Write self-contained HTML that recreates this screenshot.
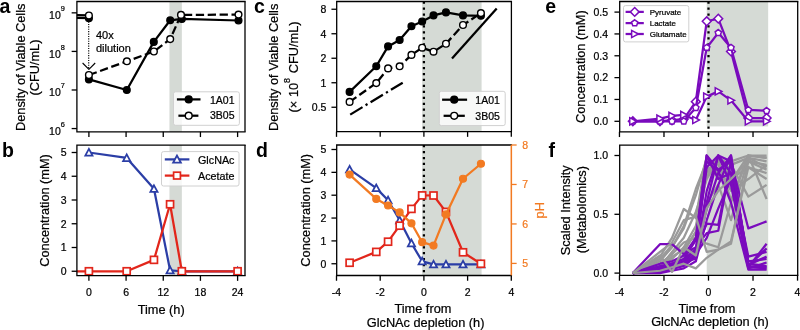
<!DOCTYPE html>
<html><head><meta charset="utf-8"><style>
html,body{margin:0;padding:0;background:#fff;}
body{width:800px;height:330px;overflow:hidden;}
svg{display:block;font-family:"Liberation Sans", sans-serif;will-change:transform;}
</style></head><body>
<svg width="800" height="330" viewBox="0 0 800 330">
<rect width="800" height="330" fill="#fff"/>
<rect x="169.45" y="1.5" width="12.39" height="130.3" fill="#d5dad5" />
<polyline points="76.9,17.9 88.9,18.1" fill="none" stroke="#000" stroke-width="2.25" stroke-linejoin="round" stroke-linecap="butt" />
<polyline points="76.9,15.2 88.9,15.4" fill="none" stroke="#000" stroke-width="2.25" stroke-linejoin="round" stroke-linecap="butt" />
<circle cx="88.9" cy="18.2" r="3.35" fill="#000" stroke="#000" stroke-width="1.4"/>
<circle cx="88.9" cy="15.5" r="3.35" fill="#fff" stroke="#000" stroke-width="1.4"/>
<line x1="88.7" y1="21.5" x2="88.7" y2="69" stroke="#000" stroke-width="1.15" stroke-dasharray="1.15 1.25"/>
<polyline points="82.6,63 88.9,69.4 95.2,63" fill="none" stroke="#000" stroke-width="1.1" stroke-linejoin="round" stroke-linecap="butt" />
<polyline points="88.9,79.4 126.8,90 153.8,41.9 170.2,20.3 181.8,18.9 238.5,20.5" fill="none" stroke="#000" stroke-width="2.25" stroke-linejoin="round" stroke-linecap="butt" />
<circle cx="88.9" cy="79.4" r="3.35" fill="#000" stroke="#000" stroke-width="1.4"/>
<circle cx="126.8" cy="90" r="3.35" fill="#000" stroke="#000" stroke-width="1.4"/>
<circle cx="153.8" cy="41.9" r="3.35" fill="#000" stroke="#000" stroke-width="1.4"/>
<circle cx="170.2" cy="20.3" r="3.35" fill="#000" stroke="#000" stroke-width="1.4"/>
<circle cx="181.8" cy="18.9" r="3.35" fill="#000" stroke="#000" stroke-width="1.4"/>
<circle cx="238.5" cy="20.5" r="3.35" fill="#000" stroke="#000" stroke-width="1.4"/>
<polyline points="88.9,75 126.9,61.3 153.9,51.5 170.2,39.1 181,14.9 238.5,14.6" fill="none" stroke="#000" stroke-width="2.25" stroke-linejoin="round" stroke-linecap="butt" stroke-dasharray="8.3 3.6"/>
<circle cx="88.9" cy="75" r="3.35" fill="#fff" stroke="#000" stroke-width="1.4"/>
<circle cx="126.9" cy="61.3" r="3.35" fill="#fff" stroke="#000" stroke-width="1.4"/>
<circle cx="153.9" cy="51.5" r="3.35" fill="#fff" stroke="#000" stroke-width="1.4"/>
<circle cx="170.2" cy="39.1" r="3.35" fill="#fff" stroke="#000" stroke-width="1.4"/>
<circle cx="181" cy="14.9" r="3.35" fill="#fff" stroke="#000" stroke-width="1.4"/>
<circle cx="238.5" cy="14.6" r="3.35" fill="#fff" stroke="#000" stroke-width="1.4"/>
<text x="96" y="39" font-size="11" text-anchor="start" fill="#000" font-weight="normal" stroke="#000" stroke-width="0.22" >40x</text>
<text x="96" y="51.9" font-size="11" text-anchor="start" fill="#000" font-weight="normal" stroke="#000" stroke-width="0.22" >dilution</text>
<rect x="173.5" y="91.8" width="65.9" height="33.5" rx="2" ry="2" fill="#fff" fill-opacity="0.8" stroke="#d0d0d0" stroke-width="1"/>
<polyline points="176.9,99.4 200.5,99.4" fill="none" stroke="#000" stroke-width="2.25" stroke-linejoin="round" stroke-linecap="butt" />
<circle cx="188.7" cy="99.4" r="3.4" fill="#000" stroke="#000" stroke-width="1.4"/>
<polyline points="178.4,115.7 186.7,115.7" fill="none" stroke="#000" stroke-width="2.25" stroke-linejoin="round" stroke-linecap="butt" />
<polyline points="190.3,115.7 198.4,115.7" fill="none" stroke="#000" stroke-width="2.25" stroke-linejoin="round" stroke-linecap="butt" />
<circle cx="188.7" cy="115.7" r="3.4" fill="#fff" stroke="#000" stroke-width="1.4"/>
<text x="210" y="103.6" font-size="10.5" text-anchor="start" fill="#000" font-weight="normal" stroke="#000" stroke-width="0.22" >1A01</text>
<text x="210" y="119.3" font-size="10.5" text-anchor="start" fill="#000" font-weight="normal" stroke="#000" stroke-width="0.22" >3B05</text>
<path d="M76.9,1.5 H245 M76.9,1.5 V131.8 H245" fill="none" stroke="#000" stroke-width="1.3" stroke-linecap="square"/>
<line x1="245" y1="1.5" x2="245" y2="131.8" stroke="#000" stroke-width="1.3" />
<line x1="71.65" y1="128.56" x2="76.9" y2="128.56" stroke="#000" stroke-width="1.3" />
<text x="49.1" y="134.76" font-size="10.5" stroke="#000" stroke-width="0.22">10<tspan font-size="7.35" dy="-8.1">6</tspan></text>
<line x1="71.65" y1="89.99" x2="76.9" y2="89.99" stroke="#000" stroke-width="1.3" />
<text x="49.1" y="96.19" font-size="10.5" stroke="#000" stroke-width="0.22">10<tspan font-size="7.35" dy="-8.1">7</tspan></text>
<line x1="71.65" y1="51.42" x2="76.9" y2="51.42" stroke="#000" stroke-width="1.3" />
<text x="49.1" y="57.62" font-size="10.5" stroke="#000" stroke-width="0.22">10<tspan font-size="7.35" dy="-8.1">8</tspan></text>
<line x1="71.65" y1="12.85" x2="76.9" y2="12.85" stroke="#000" stroke-width="1.3" />
<text x="49.1" y="19.05" font-size="10.5" stroke="#000" stroke-width="0.22">10<tspan font-size="7.35" dy="-8.1">9</tspan></text>
<line x1="88.9" y1="131.8" x2="88.9" y2="137.05" stroke="#000" stroke-width="1.3" />
<line x1="126.08" y1="131.8" x2="126.08" y2="137.05" stroke="#000" stroke-width="1.3" />
<line x1="163.25" y1="131.8" x2="163.25" y2="137.05" stroke="#000" stroke-width="1.3" />
<line x1="200.43" y1="131.8" x2="200.43" y2="137.05" stroke="#000" stroke-width="1.3" />
<line x1="237.6" y1="131.8" x2="237.6" y2="137.05" stroke="#000" stroke-width="1.3" />
<text x="-0.5" y="12.6" font-size="19.5" text-anchor="start" fill="#000" font-weight="bold" >a</text>
<text x="24.9" y="67.3" font-size="12.75" text-anchor="middle" fill="#000" font-weight="normal" stroke="#000" stroke-width="0.22" transform="rotate(-90 24.9 67.3)" >Density of Viable Cells</text>
<text x="39.4" y="67.6" font-size="12.75" text-anchor="middle" fill="#000" font-weight="normal" stroke="#000" stroke-width="0.22" transform="rotate(-90 39.4 67.6)" >(CFU/mL)</text>
<rect x="169.45" y="145.1" width="12.39" height="130.5" fill="#d5dad5" />
<polyline points="88.9,152.5 126.7,157.96 153.96,188.84 170.07,270.3 181.84,271.25 237.6,271.25" fill="none" stroke="#2b3ea6" stroke-width="2.25" stroke-linejoin="round" stroke-linecap="butt" />
<polygon points="88.9,148.9 85.3,155.56 92.5,155.56" fill="#fff" stroke="#2b3ea6" stroke-width="1.75" stroke-linejoin="miter"/>
<polygon points="126.7,154.36 123.1,161.02 130.3,161.02" fill="#fff" stroke="#2b3ea6" stroke-width="1.75" stroke-linejoin="miter"/>
<polygon points="153.96,185.24 150.36,191.9 157.56,191.9" fill="#fff" stroke="#2b3ea6" stroke-width="1.75" stroke-linejoin="miter"/>
<polygon points="170.07,266.7 166.47,273.36 173.67,273.36" fill="#fff" stroke="#2b3ea6" stroke-width="1.75" stroke-linejoin="miter"/>
<polygon points="181.84,267.65 178.24,274.31 185.44,274.31" fill="#fff" stroke="#2b3ea6" stroke-width="1.75" stroke-linejoin="miter"/>
<polygon points="237.6,267.65 234,274.31 241.2,274.31" fill="#fff" stroke="#2b3ea6" stroke-width="1.75" stroke-linejoin="miter"/>
<polyline points="76.9,271.25 88.9,271.25 126.7,271.25 153.96,259.85 170.07,204.28 181.84,271.25 237.6,271.25" fill="none" stroke="#e2261b" stroke-width="2.25" stroke-linejoin="round" stroke-linecap="butt" />
<rect x="85.4" y="267.75" width="7" height="7" fill="#fff" stroke="#e2261b" stroke-width="1.7"/>
<rect x="123.2" y="267.75" width="7" height="7" fill="#fff" stroke="#e2261b" stroke-width="1.7"/>
<rect x="150.46" y="256.35" width="7" height="7" fill="#fff" stroke="#e2261b" stroke-width="1.7"/>
<rect x="166.57" y="200.78" width="7" height="7" fill="#fff" stroke="#e2261b" stroke-width="1.7"/>
<rect x="178.34" y="267.75" width="7" height="7" fill="#fff" stroke="#e2261b" stroke-width="1.7"/>
<rect x="234.1" y="267.75" width="7" height="7" fill="#fff" stroke="#e2261b" stroke-width="1.7"/>
<rect x="161.5" y="151.6" width="77.5" height="34.4" rx="2" ry="2" fill="#fff" fill-opacity="0.8" stroke="#d0d0d0" stroke-width="1"/>
<polyline points="164.8,159.4 189.4,159.4" fill="none" stroke="#2b3ea6" stroke-width="2.25" stroke-linejoin="round" stroke-linecap="butt" />
<polygon points="177,155.5 173.1,162.72 180.9,162.72" fill="#fff" stroke="#2b3ea6" stroke-width="1.75" stroke-linejoin="miter"/>
<polyline points="164.8,175.6 189.4,175.6" fill="none" stroke="#e2261b" stroke-width="2.25" stroke-linejoin="round" stroke-linecap="butt" />
<rect x="173.6" y="172.2" width="6.8" height="6.8" fill="#fff" stroke="#e2261b" stroke-width="1.7"/>
<text x="198" y="163.5" font-size="10.75" text-anchor="start" fill="#000" font-weight="normal" stroke="#000" stroke-width="0.22" >GlcNAc</text>
<text x="198" y="179.7" font-size="10.75" text-anchor="start" fill="#000" font-weight="normal" stroke="#000" stroke-width="0.22" >Acetate</text>
<path d="M76.9,145.1 H245 M76.9,145.1 V275.6 H245" fill="none" stroke="#000" stroke-width="1.3" stroke-linecap="square"/>
<line x1="245" y1="145.1" x2="245" y2="275.6" stroke="#000" stroke-width="1.3" />
<line x1="71.65" y1="271.25" x2="76.9" y2="271.25" stroke="#000" stroke-width="1.3" />
<text x="66.65" y="275.05" font-size="10.5" text-anchor="end" fill="#000" font-weight="normal" stroke="#000" stroke-width="0.22" >0</text>
<line x1="71.65" y1="247.5" x2="76.9" y2="247.5" stroke="#000" stroke-width="1.3" />
<text x="66.65" y="251.3" font-size="10.5" text-anchor="end" fill="#000" font-weight="normal" stroke="#000" stroke-width="0.22" >1</text>
<line x1="71.65" y1="223.75" x2="76.9" y2="223.75" stroke="#000" stroke-width="1.3" />
<text x="66.65" y="227.55" font-size="10.5" text-anchor="end" fill="#000" font-weight="normal" stroke="#000" stroke-width="0.22" >2</text>
<line x1="71.65" y1="200" x2="76.9" y2="200" stroke="#000" stroke-width="1.3" />
<text x="66.65" y="203.8" font-size="10.5" text-anchor="end" fill="#000" font-weight="normal" stroke="#000" stroke-width="0.22" >3</text>
<line x1="71.65" y1="176.25" x2="76.9" y2="176.25" stroke="#000" stroke-width="1.3" />
<text x="66.65" y="180.05" font-size="10.5" text-anchor="end" fill="#000" font-weight="normal" stroke="#000" stroke-width="0.22" >4</text>
<line x1="71.65" y1="152.5" x2="76.9" y2="152.5" stroke="#000" stroke-width="1.3" />
<text x="66.65" y="156.3" font-size="10.5" text-anchor="end" fill="#000" font-weight="normal" stroke="#000" stroke-width="0.22" >5</text>
<line x1="88.9" y1="275.6" x2="88.9" y2="280.85" stroke="#000" stroke-width="1.3" />
<text x="88.9" y="295.8" font-size="10.5" text-anchor="middle" fill="#000" font-weight="normal" stroke="#000" stroke-width="0.22" >0</text>
<line x1="126.08" y1="275.6" x2="126.08" y2="280.85" stroke="#000" stroke-width="1.3" />
<text x="126.08" y="295.8" font-size="10.5" text-anchor="middle" fill="#000" font-weight="normal" stroke="#000" stroke-width="0.22" >6</text>
<line x1="163.25" y1="275.6" x2="163.25" y2="280.85" stroke="#000" stroke-width="1.3" />
<text x="163.25" y="295.8" font-size="10.5" text-anchor="middle" fill="#000" font-weight="normal" stroke="#000" stroke-width="0.22" >12</text>
<line x1="200.43" y1="275.6" x2="200.43" y2="280.85" stroke="#000" stroke-width="1.3" />
<text x="200.43" y="295.8" font-size="10.5" text-anchor="middle" fill="#000" font-weight="normal" stroke="#000" stroke-width="0.22" >18</text>
<line x1="237.6" y1="275.6" x2="237.6" y2="280.85" stroke="#000" stroke-width="1.3" />
<text x="237.6" y="295.8" font-size="10.5" text-anchor="middle" fill="#000" font-weight="normal" stroke="#000" stroke-width="0.22" >24</text>
<text x="161.2" y="313.9" font-size="12.75" text-anchor="middle" fill="#000" font-weight="normal" stroke="#000" stroke-width="0.22" >Time (h)</text>
<text x="2" y="156.6" font-size="19.5" text-anchor="start" fill="#000" font-weight="bold" >b</text>
<text x="49.2" y="210.5" font-size="12.75" text-anchor="middle" fill="#000" font-weight="normal" stroke="#000" stroke-width="0.22" transform="rotate(-90 49.2 210.5)" >Concentration (mM)</text>
<rect x="422.15" y="1.5" width="59.43" height="130.1" fill="#d5dad5" />
<line x1="350.2" y1="114.6" x2="402.7" y2="82.7" stroke="#000" stroke-width="2.25" stroke-dasharray="14.4 3.6 2.25 3.6"/>
<line x1="452" y1="58.6" x2="496.7" y2="8.5" stroke="#000" stroke-width="2.25" />
<line x1="423.9" y1="1.5" x2="423.9" y2="131.6" stroke="#000" stroke-width="2.25" stroke-dasharray="2.25 3.7"/>
<polyline points="349.61,91.9 376.27,66.3 388.07,46.4 399.65,40 411.45,26.2 422.15,21.5 433.51,15.4 445.97,12.4 463.01,15.4 480.93,15.8" fill="none" stroke="#000" stroke-width="2.25" stroke-linejoin="round" stroke-linecap="butt" />
<circle cx="349.61" cy="91.9" r="3.35" fill="#000" stroke="#000" stroke-width="1.4"/>
<circle cx="376.27" cy="66.3" r="3.35" fill="#000" stroke="#000" stroke-width="1.4"/>
<circle cx="388.07" cy="46.4" r="3.35" fill="#000" stroke="#000" stroke-width="1.4"/>
<circle cx="399.65" cy="40" r="3.35" fill="#000" stroke="#000" stroke-width="1.4"/>
<circle cx="411.45" cy="26.2" r="3.35" fill="#000" stroke="#000" stroke-width="1.4"/>
<circle cx="422.15" cy="21.5" r="3.35" fill="#000" stroke="#000" stroke-width="1.4"/>
<circle cx="433.51" cy="15.4" r="3.35" fill="#000" stroke="#000" stroke-width="1.4"/>
<circle cx="445.97" cy="12.4" r="3.35" fill="#000" stroke="#000" stroke-width="1.4"/>
<circle cx="463.01" cy="15.4" r="3.35" fill="#000" stroke="#000" stroke-width="1.4"/>
<circle cx="480.93" cy="15.8" r="3.35" fill="#000" stroke="#000" stroke-width="1.4"/>
<polyline points="349.61,101.9 376.27,83.1 388.07,68.4 399.65,66.3 411.45,54.9 422.15,47.7 433.51,51.7 445.97,43.75 463.01,25 480.93,13.1" fill="none" stroke="#000" stroke-width="2.25" stroke-linejoin="round" stroke-linecap="butt" stroke-dasharray="8.3 3.6"/>
<circle cx="349.61" cy="101.9" r="3.35" fill="#fff" stroke="#000" stroke-width="1.4"/>
<circle cx="376.27" cy="83.1" r="3.35" fill="#fff" stroke="#000" stroke-width="1.4"/>
<circle cx="388.07" cy="68.4" r="3.35" fill="#fff" stroke="#000" stroke-width="1.4"/>
<circle cx="399.65" cy="66.3" r="3.35" fill="#fff" stroke="#000" stroke-width="1.4"/>
<circle cx="411.45" cy="54.9" r="3.35" fill="#fff" stroke="#000" stroke-width="1.4"/>
<circle cx="422.15" cy="47.7" r="3.35" fill="#fff" stroke="#000" stroke-width="1.4"/>
<circle cx="433.51" cy="51.7" r="3.35" fill="#fff" stroke="#000" stroke-width="1.4"/>
<circle cx="445.97" cy="43.75" r="3.35" fill="#fff" stroke="#000" stroke-width="1.4"/>
<circle cx="463.01" cy="25" r="3.35" fill="#fff" stroke="#000" stroke-width="1.4"/>
<circle cx="480.93" cy="13.1" r="3.35" fill="#fff" stroke="#000" stroke-width="1.4"/>
<rect x="439.3" y="91.3" width="65.9" height="34.3" rx="2" ry="2" fill="#fff" fill-opacity="0.8" stroke="#d0d0d0" stroke-width="1"/>
<polyline points="442.1,99.7 467.1,99.7" fill="none" stroke="#000" stroke-width="2.25" stroke-linejoin="round" stroke-linecap="butt" />
<circle cx="454.2" cy="99.7" r="3.4" fill="#000" stroke="#000" stroke-width="1.4"/>
<polyline points="443.6,115.8 451.9,115.8" fill="none" stroke="#000" stroke-width="2.25" stroke-linejoin="round" stroke-linecap="butt" />
<polyline points="456.5,115.8 464.8,115.8" fill="none" stroke="#000" stroke-width="2.25" stroke-linejoin="round" stroke-linecap="butt" />
<circle cx="454.2" cy="115.8" r="3.4" fill="#fff" stroke="#000" stroke-width="1.4"/>
<text x="475.3" y="103.8" font-size="10.5" text-anchor="start" fill="#000" font-weight="normal" stroke="#000" stroke-width="0.22" >1A01</text>
<text x="475.3" y="119.5" font-size="10.5" text-anchor="start" fill="#000" font-weight="normal" stroke="#000" stroke-width="0.22" >3B05</text>
<path d="M336.7,1.5 H511.4 M336.7,1.5 V131.6 H511.4" fill="none" stroke="#000" stroke-width="1.3" stroke-linecap="square"/>
<line x1="511.4" y1="1.5" x2="511.4" y2="131.6" stroke="#000" stroke-width="1.3" />
<line x1="331.45" y1="107.25" x2="336.7" y2="107.25" stroke="#000" stroke-width="1.3" />
<text x="326.45" y="111.05" font-size="10.5" text-anchor="end" fill="#000" font-weight="normal" stroke="#000" stroke-width="0.22" >0.5</text>
<line x1="331.45" y1="82.75" x2="336.7" y2="82.75" stroke="#000" stroke-width="1.3" />
<text x="326.45" y="86.55" font-size="10.5" text-anchor="end" fill="#000" font-weight="normal" stroke="#000" stroke-width="0.22" >1</text>
<line x1="331.45" y1="58.25" x2="336.7" y2="58.25" stroke="#000" stroke-width="1.3" />
<text x="326.45" y="62.05" font-size="10.5" text-anchor="end" fill="#000" font-weight="normal" stroke="#000" stroke-width="0.22" >2</text>
<line x1="331.45" y1="33.75" x2="336.7" y2="33.75" stroke="#000" stroke-width="1.3" />
<text x="326.45" y="37.55" font-size="10.5" text-anchor="end" fill="#000" font-weight="normal" stroke="#000" stroke-width="0.22" >4</text>
<line x1="331.45" y1="9.25" x2="336.7" y2="9.25" stroke="#000" stroke-width="1.3" />
<text x="326.45" y="13.05" font-size="10.5" text-anchor="end" fill="#000" font-weight="normal" stroke="#000" stroke-width="0.22" >8</text>
<line x1="336.5" y1="131.6" x2="336.5" y2="136.85" stroke="#000" stroke-width="1.3" />
<line x1="380.2" y1="131.6" x2="380.2" y2="136.85" stroke="#000" stroke-width="1.3" />
<line x1="423.9" y1="131.6" x2="423.9" y2="136.85" stroke="#000" stroke-width="1.3" />
<line x1="467.6" y1="131.6" x2="467.6" y2="136.85" stroke="#000" stroke-width="1.3" />
<line x1="511.3" y1="131.6" x2="511.3" y2="136.85" stroke="#000" stroke-width="1.3" />
<text x="254.1" y="12.6" font-size="19.5" text-anchor="start" fill="#000" font-weight="bold" >c</text>
<text x="278" y="67.4" font-size="12.75" text-anchor="middle" fill="#000" font-weight="normal" stroke="#000" stroke-width="0.22" transform="rotate(-90 278 67.4)" >Density of Viable Cells</text>
<text x="298.2" y="112.6" font-size="12.75" text-anchor="start" fill="#000" font-weight="normal" stroke="#000" stroke-width="0.22" transform="rotate(-90 298.2 112.6)" >(× </text>
<text x="298.2" y="97.1" font-size="12.75" text-anchor="start" fill="#000" font-weight="normal" stroke="#000" stroke-width="0.22" transform="rotate(-90 298.2 97.1)" >10</text>
<text x="289.8" y="83" font-size="8.9" text-anchor="start" fill="#000" font-weight="normal" stroke="#000" stroke-width="0.22" transform="rotate(-90 289.8 83)" >8</text>
<text x="298.2" y="73.2" font-size="12.75" text-anchor="start" fill="#000" font-weight="normal" stroke="#000" stroke-width="0.22" transform="rotate(-90 298.2 73.2)" >CFU/mL)</text>
<rect x="422.15" y="145" width="59.43" height="130.5" fill="#d5dad5" />
<line x1="423.9" y1="145" x2="423.9" y2="275.5" stroke="#000" stroke-width="2.25" stroke-dasharray="2.25 3.7"/>
<polyline points="349.61,169.4 376.27,188.1 388.07,200.2 399.65,220.2 411.45,243.2 422.15,261.3 433.51,264.4 445.97,264.4 463.01,264.4 480.93,264.4" fill="none" stroke="#2b3ea6" stroke-width="2.25" stroke-linejoin="round" stroke-linecap="butt" />
<polygon points="349.61,165.8 346.01,172.46 353.21,172.46" fill="#fff" stroke="#2b3ea6" stroke-width="1.75" stroke-linejoin="miter"/>
<polygon points="376.27,184.5 372.67,191.16 379.87,191.16" fill="#fff" stroke="#2b3ea6" stroke-width="1.75" stroke-linejoin="miter"/>
<polygon points="388.07,196.6 384.47,203.26 391.67,203.26" fill="#fff" stroke="#2b3ea6" stroke-width="1.75" stroke-linejoin="miter"/>
<polygon points="399.65,216.6 396.05,223.26 403.25,223.26" fill="#fff" stroke="#2b3ea6" stroke-width="1.75" stroke-linejoin="miter"/>
<polygon points="411.45,239.6 407.85,246.26 415.05,246.26" fill="#fff" stroke="#2b3ea6" stroke-width="1.75" stroke-linejoin="miter"/>
<polygon points="422.15,257.7 418.55,264.36 425.75,264.36" fill="#fff" stroke="#2b3ea6" stroke-width="1.75" stroke-linejoin="miter"/>
<polygon points="433.51,260.8 429.91,267.46 437.11,267.46" fill="#fff" stroke="#2b3ea6" stroke-width="1.75" stroke-linejoin="miter"/>
<polygon points="445.97,260.8 442.37,267.46 449.57,267.46" fill="#fff" stroke="#2b3ea6" stroke-width="1.75" stroke-linejoin="miter"/>
<polygon points="463.01,260.8 459.41,267.46 466.61,267.46" fill="#fff" stroke="#2b3ea6" stroke-width="1.75" stroke-linejoin="miter"/>
<polygon points="480.93,260.8 477.33,267.46 484.53,267.46" fill="#fff" stroke="#2b3ea6" stroke-width="1.75" stroke-linejoin="miter"/>
<polyline points="349.61,262.75 376.27,251.9 388.07,241.7 399.65,225.7 411.45,208.9 422.15,195.4 433.51,195.5 445.97,211.9 463.01,252.3 480.93,263.75" fill="none" stroke="#e2261b" stroke-width="2.25" stroke-linejoin="round" stroke-linecap="butt" />
<rect x="346.11" y="259.25" width="7" height="7" fill="#fff" stroke="#e2261b" stroke-width="1.7"/>
<rect x="372.77" y="248.4" width="7" height="7" fill="#fff" stroke="#e2261b" stroke-width="1.7"/>
<rect x="384.57" y="238.2" width="7" height="7" fill="#fff" stroke="#e2261b" stroke-width="1.7"/>
<rect x="396.15" y="222.2" width="7" height="7" fill="#fff" stroke="#e2261b" stroke-width="1.7"/>
<rect x="407.95" y="205.4" width="7" height="7" fill="#fff" stroke="#e2261b" stroke-width="1.7"/>
<rect x="418.65" y="191.9" width="7" height="7" fill="#fff" stroke="#e2261b" stroke-width="1.7"/>
<rect x="430.01" y="192" width="7" height="7" fill="#fff" stroke="#e2261b" stroke-width="1.7"/>
<rect x="442.47" y="208.4" width="7" height="7" fill="#fff" stroke="#e2261b" stroke-width="1.7"/>
<rect x="459.51" y="248.8" width="7" height="7" fill="#fff" stroke="#e2261b" stroke-width="1.7"/>
<rect x="477.43" y="260.25" width="7" height="7" fill="#fff" stroke="#e2261b" stroke-width="1.7"/>
<polyline points="349.61,174.6 376.27,198.9 388.07,205.5 399.65,212.4 411.45,223.3 422.15,242.2 433.51,245.6 445.97,214.4 463.01,178.75 480.93,163.75" fill="none" stroke="#f27a22" stroke-width="2.25" stroke-linejoin="round" stroke-linecap="butt" />
<circle cx="349.61" cy="174.6" r="3.5" fill="#f27a22" stroke="#f27a22" stroke-width="1.2"/>
<circle cx="376.27" cy="198.9" r="3.5" fill="#f27a22" stroke="#f27a22" stroke-width="1.2"/>
<circle cx="388.07" cy="205.5" r="3.5" fill="#f27a22" stroke="#f27a22" stroke-width="1.2"/>
<circle cx="399.65" cy="212.4" r="3.5" fill="#f27a22" stroke="#f27a22" stroke-width="1.2"/>
<circle cx="411.45" cy="223.3" r="3.5" fill="#f27a22" stroke="#f27a22" stroke-width="1.2"/>
<circle cx="422.15" cy="242.2" r="3.5" fill="#f27a22" stroke="#f27a22" stroke-width="1.2"/>
<circle cx="433.51" cy="245.6" r="3.5" fill="#f27a22" stroke="#f27a22" stroke-width="1.2"/>
<circle cx="445.97" cy="214.4" r="3.5" fill="#f27a22" stroke="#f27a22" stroke-width="1.2"/>
<circle cx="463.01" cy="178.75" r="3.5" fill="#f27a22" stroke="#f27a22" stroke-width="1.2"/>
<circle cx="480.93" cy="163.75" r="3.5" fill="#f27a22" stroke="#f27a22" stroke-width="1.2"/>
<path d="M336.7,145 H511.4 M336.7,145 V275.5 H511.4" fill="none" stroke="#000" stroke-width="1.3" stroke-linecap="square"/>
<line x1="511.4" y1="145" x2="511.4" y2="275.5" stroke="#f27a22" stroke-width="1.3" />
<line x1="511.4" y1="145" x2="511.4" y2="275.5" stroke="#f27a22" stroke-width="1.3" />
<line x1="331.45" y1="263.75" x2="336.7" y2="263.75" stroke="#000" stroke-width="1.3" />
<text x="326.45" y="267.55" font-size="10.5" text-anchor="end" fill="#000" font-weight="normal" stroke="#000" stroke-width="0.22" >0</text>
<line x1="331.45" y1="240.9" x2="336.7" y2="240.9" stroke="#000" stroke-width="1.3" />
<text x="326.45" y="244.7" font-size="10.5" text-anchor="end" fill="#000" font-weight="normal" stroke="#000" stroke-width="0.22" >1</text>
<line x1="331.45" y1="218.05" x2="336.7" y2="218.05" stroke="#000" stroke-width="1.3" />
<text x="326.45" y="221.85" font-size="10.5" text-anchor="end" fill="#000" font-weight="normal" stroke="#000" stroke-width="0.22" >2</text>
<line x1="331.45" y1="195.2" x2="336.7" y2="195.2" stroke="#000" stroke-width="1.3" />
<text x="326.45" y="199" font-size="10.5" text-anchor="end" fill="#000" font-weight="normal" stroke="#000" stroke-width="0.22" >3</text>
<line x1="331.45" y1="172.35" x2="336.7" y2="172.35" stroke="#000" stroke-width="1.3" />
<text x="326.45" y="176.15" font-size="10.5" text-anchor="end" fill="#000" font-weight="normal" stroke="#000" stroke-width="0.22" >4</text>
<line x1="331.45" y1="149.5" x2="336.7" y2="149.5" stroke="#000" stroke-width="1.3" />
<text x="326.45" y="153.3" font-size="10.5" text-anchor="end" fill="#000" font-weight="normal" stroke="#000" stroke-width="0.22" >5</text>
<line x1="511.4" y1="263.41" x2="516.65" y2="263.41" stroke="#f27a22" stroke-width="1.3" />
<text x="522.35" y="267.21" font-size="10.5" text-anchor="start" fill="#f27a22" font-weight="normal" stroke="#f27a22" stroke-width="0.22" >5</text>
<line x1="511.4" y1="223.94" x2="516.65" y2="223.94" stroke="#f27a22" stroke-width="1.3" />
<text x="522.35" y="227.74" font-size="10.5" text-anchor="start" fill="#f27a22" font-weight="normal" stroke="#f27a22" stroke-width="0.22" >6</text>
<line x1="511.4" y1="184.47" x2="516.65" y2="184.47" stroke="#f27a22" stroke-width="1.3" />
<text x="522.35" y="188.27" font-size="10.5" text-anchor="start" fill="#f27a22" font-weight="normal" stroke="#f27a22" stroke-width="0.22" >7</text>
<line x1="511.4" y1="145" x2="516.65" y2="145" stroke="#f27a22" stroke-width="1.3" />
<text x="522.35" y="148.8" font-size="10.5" text-anchor="start" fill="#f27a22" font-weight="normal" stroke="#f27a22" stroke-width="0.22" >8</text>
<line x1="336.5" y1="275.5" x2="336.5" y2="280.75" stroke="#000" stroke-width="1.3" />
<text x="336.5" y="295.8" font-size="10.5" text-anchor="middle" fill="#000" font-weight="normal" stroke="#000" stroke-width="0.22" >-4</text>
<line x1="380.2" y1="275.5" x2="380.2" y2="280.75" stroke="#000" stroke-width="1.3" />
<text x="380.2" y="295.8" font-size="10.5" text-anchor="middle" fill="#000" font-weight="normal" stroke="#000" stroke-width="0.22" >-2</text>
<line x1="423.9" y1="275.5" x2="423.9" y2="280.75" stroke="#000" stroke-width="1.3" />
<text x="423.9" y="295.8" font-size="10.5" text-anchor="middle" fill="#000" font-weight="normal" stroke="#000" stroke-width="0.22" >0</text>
<line x1="467.6" y1="275.5" x2="467.6" y2="280.75" stroke="#000" stroke-width="1.3" />
<text x="467.6" y="295.8" font-size="10.5" text-anchor="middle" fill="#000" font-weight="normal" stroke="#000" stroke-width="0.22" >2</text>
<line x1="511.3" y1="275.5" x2="511.3" y2="280.75" stroke="#000" stroke-width="1.3" />
<text x="511.3" y="295.8" font-size="10.5" text-anchor="middle" fill="#000" font-weight="normal" stroke="#000" stroke-width="0.22" >4</text>
<text x="422.9" y="312.9" font-size="12.75" text-anchor="middle" fill="#000" font-weight="normal" stroke="#000" stroke-width="0.22" >Time from</text>
<text x="425.6" y="326.9" font-size="12.75" text-anchor="middle" fill="#000" font-weight="normal" stroke="#000" stroke-width="0.22" >GlcNAc depletion (h)</text>
<text x="256" y="156.6" font-size="19.5" text-anchor="start" fill="#000" font-weight="bold" >d</text>
<text x="309.6" y="210.3" font-size="12.75" text-anchor="middle" fill="#000" font-weight="normal" stroke="#000" stroke-width="0.22" transform="rotate(-90 309.6 210.3)" >Concentration (mM)</text>
<text x="544.5" y="210.3" font-size="12.75" text-anchor="middle" fill="#f27a22" font-weight="normal" stroke="#f27a22" stroke-width="0.22" transform="rotate(-90 544.5 210.3)" >pH</text>
<rect x="706.72" y="1.5" width="61.44" height="124.9" fill="#d5dad5" />
<line x1="708.5" y1="1.5" x2="708.5" y2="131.8" stroke="#000" stroke-width="2.25" stroke-dasharray="2.25 3.7"/>
<polyline points="632.82,121.3 659.97,121.3 671.99,120.21 683.79,119.12 695.81,101.64 706.72,21.27 718.29,18.65 730.98,51.41 748.35,118.02 766.6,118.02" fill="none" stroke="#7a0bbd" stroke-width="2.25" stroke-linejoin="round" stroke-linecap="butt" />
<polygon points="632.82,116.9 637.22,121.3 632.82,125.7 628.42,121.3" fill="#fff" stroke="#7a0bbd" stroke-width="1.5"/>
<polygon points="659.97,116.9 664.37,121.3 659.97,125.7 655.57,121.3" fill="#fff" stroke="#7a0bbd" stroke-width="1.5"/>
<polygon points="671.99,115.81 676.39,120.21 671.99,124.61 667.59,120.21" fill="#fff" stroke="#7a0bbd" stroke-width="1.5"/>
<polygon points="683.79,114.72 688.19,119.12 683.79,123.52 679.39,119.12" fill="#fff" stroke="#7a0bbd" stroke-width="1.5"/>
<polygon points="695.81,97.24 700.21,101.64 695.81,106.04 691.41,101.64" fill="#fff" stroke="#7a0bbd" stroke-width="1.5"/>
<polygon points="706.72,16.87 711.12,21.27 706.72,25.67 702.32,21.27" fill="#fff" stroke="#7a0bbd" stroke-width="1.5"/>
<polygon points="718.29,14.25 722.69,18.65 718.29,23.05 713.89,18.65" fill="#fff" stroke="#7a0bbd" stroke-width="1.5"/>
<polygon points="730.98,47.01 735.38,51.41 730.98,55.81 726.58,51.41" fill="#fff" stroke="#7a0bbd" stroke-width="1.5"/>
<polygon points="748.35,113.62 752.75,118.02 748.35,122.42 743.95,118.02" fill="#fff" stroke="#7a0bbd" stroke-width="1.5"/>
<polygon points="766.6,113.62 771,118.02 766.6,122.42 762.2,118.02" fill="#fff" stroke="#7a0bbd" stroke-width="1.5"/>
<polyline points="632.82,121.3 659.97,121.3 671.99,121.3 683.79,121.3 695.81,107.76 706.72,47.7 718.29,32.85 730.98,47.7 748.35,109.94 766.6,110.82" fill="none" stroke="#7a0bbd" stroke-width="2.25" stroke-linejoin="round" stroke-linecap="butt" />
<polygon points="632.82,118 635.95,120.28 634.76,123.97 630.88,123.97 629.68,120.28" fill="#fff" stroke="#7a0bbd" stroke-width="1.5"/>
<polygon points="659.97,118 663.11,120.28 661.91,123.97 658.03,123.97 656.83,120.28" fill="#fff" stroke="#7a0bbd" stroke-width="1.5"/>
<polygon points="671.99,118 675.13,120.28 673.93,123.97 670.05,123.97 668.86,120.28" fill="#fff" stroke="#7a0bbd" stroke-width="1.5"/>
<polygon points="683.79,118 686.93,120.28 685.73,123.97 681.85,123.97 680.65,120.28" fill="#fff" stroke="#7a0bbd" stroke-width="1.5"/>
<polygon points="695.81,104.46 698.95,106.74 697.75,110.43 693.87,110.43 692.67,106.74" fill="#fff" stroke="#7a0bbd" stroke-width="1.5"/>
<polygon points="706.72,44.4 709.86,46.68 708.66,50.37 704.78,50.37 703.58,46.68" fill="#fff" stroke="#7a0bbd" stroke-width="1.5"/>
<polygon points="718.29,29.55 721.43,31.83 720.23,35.52 716.35,35.52 715.16,31.83" fill="#fff" stroke="#7a0bbd" stroke-width="1.5"/>
<polygon points="730.98,44.4 734.12,46.68 732.92,50.37 729.04,50.37 727.84,46.68" fill="#fff" stroke="#7a0bbd" stroke-width="1.5"/>
<polygon points="748.35,106.64 751.48,108.92 750.29,112.61 746.41,112.61 745.21,108.92" fill="#fff" stroke="#7a0bbd" stroke-width="1.5"/>
<polygon points="766.6,107.52 769.74,109.8 768.54,113.49 764.66,113.49 763.46,109.8" fill="#fff" stroke="#7a0bbd" stroke-width="1.5"/>
<polyline points="632.82,121.3 659.97,118.68 671.99,115.84 683.79,114.97 695.81,119.99 706.72,96.62 718.29,91.38 730.98,100.33 748.35,121.3 766.6,121.3" fill="none" stroke="#7a0bbd" stroke-width="2.25" stroke-linejoin="round" stroke-linecap="butt" />
<polygon points="636.42,121.3 629.76,117.7 629.76,124.9" fill="#fff" stroke="#7a0bbd" stroke-width="1.5" stroke-linejoin="miter"/>
<polygon points="663.57,118.68 656.91,115.08 656.91,122.28" fill="#fff" stroke="#7a0bbd" stroke-width="1.5" stroke-linejoin="miter"/>
<polygon points="675.59,115.84 668.93,112.24 668.93,119.44" fill="#fff" stroke="#7a0bbd" stroke-width="1.5" stroke-linejoin="miter"/>
<polygon points="687.39,114.97 680.73,111.37 680.73,118.57" fill="#fff" stroke="#7a0bbd" stroke-width="1.5" stroke-linejoin="miter"/>
<polygon points="699.41,119.99 692.75,116.39 692.75,123.59" fill="#fff" stroke="#7a0bbd" stroke-width="1.5" stroke-linejoin="miter"/>
<polygon points="710.32,96.62 703.66,93.02 703.66,100.22" fill="#fff" stroke="#7a0bbd" stroke-width="1.5" stroke-linejoin="miter"/>
<polygon points="721.89,91.38 715.23,87.78 715.23,94.98" fill="#fff" stroke="#7a0bbd" stroke-width="1.5" stroke-linejoin="miter"/>
<polygon points="734.58,100.33 727.92,96.73 727.92,103.93" fill="#fff" stroke="#7a0bbd" stroke-width="1.5" stroke-linejoin="miter"/>
<polygon points="751.95,121.3 745.29,117.7 745.29,124.9" fill="#fff" stroke="#7a0bbd" stroke-width="1.5" stroke-linejoin="miter"/>
<polygon points="770.2,121.3 763.54,117.7 763.54,124.9" fill="#fff" stroke="#7a0bbd" stroke-width="1.5" stroke-linejoin="miter"/>
<rect x="623.5" y="5.6" width="65.3" height="36.3" rx="2" ry="2" fill="#fff" fill-opacity="0.8" stroke="#d0d0d0" stroke-width="1"/>
<polyline points="625.6,11.9 643.8,11.9" fill="none" stroke="#7a0bbd" stroke-width="2.25" stroke-linejoin="round" stroke-linecap="butt" />
<polygon points="634.7,7.5 639.1,11.9 634.7,16.3 630.3,11.9" fill="#fff" stroke="#7a0bbd" stroke-width="1.5"/>
<polyline points="625.6,23.1 643.8,23.1" fill="none" stroke="#7a0bbd" stroke-width="2.25" stroke-linejoin="round" stroke-linecap="butt" />
<polygon points="634.7,19.8 637.84,22.08 636.64,25.77 632.76,25.77 631.56,22.08" fill="#fff" stroke="#7a0bbd" stroke-width="1.5"/>
<polyline points="625.6,34 643.8,34" fill="none" stroke="#7a0bbd" stroke-width="2.25" stroke-linejoin="round" stroke-linecap="butt" />
<polygon points="638.3,34 631.64,30.4 631.64,37.6" fill="#fff" stroke="#7a0bbd" stroke-width="1.5" stroke-linejoin="miter"/>
<text x="649.7" y="14.6" font-size="8.0" text-anchor="start" fill="#000" font-weight="normal" stroke="#000" stroke-width="0.22" >Pyruvate</text>
<text x="649.7" y="25.8" font-size="8.0" text-anchor="start" fill="#000" font-weight="normal" stroke="#000" stroke-width="0.22" >Lactate</text>
<text x="649.7" y="36.7" font-size="8.0" text-anchor="start" fill="#000" font-weight="normal" stroke="#000" stroke-width="0.22" >Glutamate</text>
<path d="M619.7,1.5 H797.7 M619.7,1.5 V131.8 H797.7" fill="none" stroke="#000" stroke-width="1.3" stroke-linecap="square"/>
<line x1="797.7" y1="1.5" x2="797.7" y2="131.8" stroke="#000" stroke-width="1.3" />
<line x1="614.45" y1="121.3" x2="619.7" y2="121.3" stroke="#000" stroke-width="1.3" />
<text x="608.05" y="125.1" font-size="10.5" text-anchor="end" fill="#000" font-weight="normal" stroke="#000" stroke-width="0.22" >0.0</text>
<line x1="614.45" y1="99.46" x2="619.7" y2="99.46" stroke="#000" stroke-width="1.3" />
<text x="608.05" y="103.26" font-size="10.5" text-anchor="end" fill="#000" font-weight="normal" stroke="#000" stroke-width="0.22" >0.1</text>
<line x1="614.45" y1="77.62" x2="619.7" y2="77.62" stroke="#000" stroke-width="1.3" />
<text x="608.05" y="81.42" font-size="10.5" text-anchor="end" fill="#000" font-weight="normal" stroke="#000" stroke-width="0.22" >0.2</text>
<line x1="614.45" y1="55.78" x2="619.7" y2="55.78" stroke="#000" stroke-width="1.3" />
<text x="608.05" y="59.58" font-size="10.5" text-anchor="end" fill="#000" font-weight="normal" stroke="#000" stroke-width="0.22" >0.3</text>
<line x1="614.45" y1="33.94" x2="619.7" y2="33.94" stroke="#000" stroke-width="1.3" />
<text x="608.05" y="37.74" font-size="10.5" text-anchor="end" fill="#000" font-weight="normal" stroke="#000" stroke-width="0.22" >0.4</text>
<line x1="614.45" y1="12.1" x2="619.7" y2="12.1" stroke="#000" stroke-width="1.3" />
<text x="608.05" y="15.9" font-size="10.5" text-anchor="end" fill="#000" font-weight="normal" stroke="#000" stroke-width="0.22" >0.5</text>
<line x1="619.46" y1="131.8" x2="619.46" y2="137.05" stroke="#000" stroke-width="1.3" />
<line x1="663.98" y1="131.8" x2="663.98" y2="137.05" stroke="#000" stroke-width="1.3" />
<line x1="708.5" y1="131.8" x2="708.5" y2="137.05" stroke="#000" stroke-width="1.3" />
<line x1="753.02" y1="131.8" x2="753.02" y2="137.05" stroke="#000" stroke-width="1.3" />
<line x1="797.54" y1="131.8" x2="797.54" y2="137.05" stroke="#000" stroke-width="1.3" />
<text x="545.2" y="12.6" font-size="19.5" text-anchor="start" fill="#000" font-weight="bold" >e</text>
<text x="584.8" y="66.6" font-size="12.75" text-anchor="middle" fill="#000" font-weight="normal" stroke="#000" stroke-width="0.22" transform="rotate(-90 584.8 66.6)" >Concentration (mM)</text>
<rect x="706.72" y="145.1" width="61.44" height="130.3" fill="#d5dad5" />
<polyline points="632.82,273.1 659.97,256.64 671.99,237.82 683.79,209.01 695.81,217.83 706.72,155.5 718.29,176.67 730.98,181.37 748.35,155.5 766.6,155.5" fill="none" stroke="#9a9a9a" stroke-width="2.25" stroke-linejoin="round" stroke-linecap="butt" />
<polyline points="632.82,273.1 659.97,261.34 671.99,247.23 683.79,228.41 695.81,195.48 706.72,157.85 718.29,179.02 730.98,164.91 748.35,157.85 766.6,161.38" fill="none" stroke="#9a9a9a" stroke-width="2.25" stroke-linejoin="round" stroke-linecap="butt" />
<polyline points="632.82,273.1 659.97,267.22 671.99,251.93 683.79,237.82 695.81,211.95 706.72,179.02 718.29,160.2 730.98,200.19 748.35,155.5 766.6,199.01" fill="none" stroke="#9a9a9a" stroke-width="2.25" stroke-linejoin="round" stroke-linecap="butt" />
<polyline points="632.82,273.1 659.97,268.4 671.99,258.99 683.79,247.23 695.81,226.06 706.72,173.14 718.29,155.5 730.98,179.02 748.35,167.26 766.6,173.14" fill="none" stroke="#9a9a9a" stroke-width="2.25" stroke-linejoin="round" stroke-linecap="butt" />
<polyline points="632.82,273.1 659.97,263.69 671.99,254.28 683.79,242.52 695.81,237.82 706.72,243.7 718.29,247.23 730.98,202.54 748.35,155.5 766.6,157.85" fill="none" stroke="#9a9a9a" stroke-width="2.25" stroke-linejoin="round" stroke-linecap="butt" />
<polyline points="632.82,273.1 659.97,258.99 671.99,247.23 683.79,226.06 695.81,189.02 706.72,161.38 718.29,164.91 730.98,190.78 748.35,179.02 766.6,164.91" fill="none" stroke="#9a9a9a" stroke-width="2.25" stroke-linejoin="round" stroke-linecap="butt" />
<polyline points="632.82,273.1 659.97,269.57 671.99,263.69 683.79,255.46 695.81,249.58 706.72,202.54 718.29,184.9 730.98,220.18 748.35,157.85 766.6,167.26" fill="none" stroke="#9a9a9a" stroke-width="2.25" stroke-linejoin="round" stroke-linecap="butt" />
<polyline points="632.82,273.1 659.97,266.04 671.99,256.64 683.79,249.58 695.81,231.94 706.72,176.67 718.29,157.85 730.98,164.91 748.35,196.66 766.6,184.9" fill="none" stroke="#9a9a9a" stroke-width="2.25" stroke-linejoin="round" stroke-linecap="butt" />
<polyline points="632.82,273.1 659.97,258.99 671.99,244.88 683.79,251.93 695.81,231.94 706.72,167.26 718.29,173.14 730.98,161.38 748.35,155.5 766.6,157.85" fill="none" stroke="#9a9a9a" stroke-width="2.25" stroke-linejoin="round" stroke-linecap="butt" />
<polyline points="632.82,273.1 659.97,244.17 671.99,244.17 683.79,254.28 695.81,247.23 706.72,233.12 718.29,230.76 730.98,161.38 748.35,228.41 766.6,221.36" fill="none" stroke="#7a0bbd" stroke-width="2.25" stroke-linejoin="round" stroke-linecap="butt" />
<polyline points="632.82,273.1 659.97,267.22 671.99,263.69 683.79,258.99 695.81,240.17 706.72,155.5 718.29,169.61 730.98,161.38 748.35,267.22 766.6,243.7" fill="none" stroke="#7a0bbd" stroke-width="2.25" stroke-linejoin="round" stroke-linecap="butt" />
<polyline points="632.82,273.1 659.97,270.75 671.99,267.22 683.79,263.69 695.81,255.46 706.72,190.78 718.29,155.5 730.98,173.14 748.35,266.04 766.6,248.4" fill="none" stroke="#7a0bbd" stroke-width="2.25" stroke-linejoin="round" stroke-linecap="butt" />
<polyline points="632.82,273.1 659.97,263.69 671.99,261.34 683.79,255.46 695.81,237.82 706.72,155.5 718.29,179.02 730.98,173.14 748.35,256.64 766.6,251.93" fill="none" stroke="#7a0bbd" stroke-width="2.25" stroke-linejoin="round" stroke-linecap="butt" />
<polyline points="632.82,273.1 659.97,269.57 671.99,268.4 683.79,266.04 695.81,256.64 706.72,208.42 718.29,173.14 730.98,155.5 748.35,264.87 766.6,256.64" fill="none" stroke="#7a0bbd" stroke-width="2.25" stroke-linejoin="round" stroke-linecap="butt" />
<polyline points="632.82,273.1 659.97,266.04 671.99,263.69 683.79,258.99 695.81,249.58 706.72,167.26 718.29,155.5 730.98,184.9 748.35,268.4 766.6,262.52" fill="none" stroke="#7a0bbd" stroke-width="2.25" stroke-linejoin="round" stroke-linecap="butt" />
<polyline points="632.82,273.1 659.97,273.1 671.99,270.75 683.79,268.4 695.81,261.34 706.72,220.18 718.29,184.9 730.98,155.5 748.35,267.22 766.6,268.4" fill="none" stroke="#7a0bbd" stroke-width="2.25" stroke-linejoin="round" stroke-linecap="butt" />
<polyline points="632.82,273.1 659.97,268.4 671.99,264.87 683.79,261.34 695.81,258.99 706.72,202.54 718.29,155.5 730.98,161.38 748.35,263.69 766.6,266.04" fill="none" stroke="#7a0bbd" stroke-width="2.25" stroke-linejoin="round" stroke-linecap="butt" />
<polyline points="632.82,273.1 659.97,270.75 671.99,267.22 683.79,261.34 695.81,249.58 706.72,223.71 718.29,224.88 730.98,161.38 748.35,261.34 766.6,258.99" fill="none" stroke="#7a0bbd" stroke-width="2.25" stroke-linejoin="round" stroke-linecap="butt" />
<polyline points="632.82,273.1 659.97,271.92 671.99,269.57 683.79,264.87 695.81,251.93 706.72,161.38 718.29,170.79 730.98,202.54 748.35,269.57 766.6,269.57" fill="none" stroke="#7a0bbd" stroke-width="2.25" stroke-linejoin="round" stroke-linecap="butt" />
<polyline points="632.82,273.1 659.97,269.57 671.99,266.04 683.79,262.52 695.81,254.28 706.72,237.82 718.29,208.42 730.98,179.02 748.35,266.04 766.6,267.22" fill="none" stroke="#7a0bbd" stroke-width="2.25" stroke-linejoin="round" stroke-linecap="butt" />
<polyline points="632.82,273.1 659.97,251.93 671.99,242.52 683.79,220.18 695.81,216.65 706.72,251.93 718.29,249.58 730.98,241.35 748.35,167.26 766.6,179.02" fill="none" stroke="#9a9a9a" stroke-width="2.25" stroke-linejoin="round" stroke-linecap="butt" />
<polyline points="632.82,273.1 659.97,270.75 671.99,267.22 683.79,263.69 695.81,268.4 706.72,257.81 718.29,249.58 730.98,243.7 748.35,161.38 766.6,169.61" fill="none" stroke="#9a9a9a" stroke-width="2.25" stroke-linejoin="round" stroke-linecap="butt" />
<polyline points="632.82,273.1 659.97,255.46 671.99,271.92 683.79,247.23 695.81,255.46 706.72,208.42 718.29,190.78 730.98,179.02 748.35,161.38 766.6,164.91" fill="none" stroke="#9a9a9a" stroke-width="2.25" stroke-linejoin="round" stroke-linecap="butt" />
<path d="M619.7,145.1 H797.7 M619.7,145.1 V275.4 H797.7" fill="none" stroke="#000" stroke-width="1.3" stroke-linecap="square"/>
<line x1="797.7" y1="145.1" x2="797.7" y2="275.4" stroke="#000" stroke-width="1.3" />
<line x1="614.45" y1="273.1" x2="619.7" y2="273.1" stroke="#000" stroke-width="1.3" />
<text x="608.05" y="276.9" font-size="10.5" text-anchor="end" fill="#000" font-weight="normal" stroke="#000" stroke-width="0.22" >0.0</text>
<line x1="614.45" y1="214.3" x2="619.7" y2="214.3" stroke="#000" stroke-width="1.3" />
<text x="608.05" y="218.1" font-size="10.5" text-anchor="end" fill="#000" font-weight="normal" stroke="#000" stroke-width="0.22" >0.5</text>
<line x1="614.45" y1="155.5" x2="619.7" y2="155.5" stroke="#000" stroke-width="1.3" />
<text x="608.05" y="159.3" font-size="10.5" text-anchor="end" fill="#000" font-weight="normal" stroke="#000" stroke-width="0.22" >1.0</text>
<line x1="619.46" y1="275.4" x2="619.46" y2="280.65" stroke="#000" stroke-width="1.3" />
<text x="619.46" y="295.8" font-size="10.5" text-anchor="middle" fill="#000" font-weight="normal" stroke="#000" stroke-width="0.22" >-4</text>
<line x1="663.98" y1="275.4" x2="663.98" y2="280.65" stroke="#000" stroke-width="1.3" />
<text x="663.98" y="295.8" font-size="10.5" text-anchor="middle" fill="#000" font-weight="normal" stroke="#000" stroke-width="0.22" >-2</text>
<line x1="708.5" y1="275.4" x2="708.5" y2="280.65" stroke="#000" stroke-width="1.3" />
<text x="708.5" y="295.8" font-size="10.5" text-anchor="middle" fill="#000" font-weight="normal" stroke="#000" stroke-width="0.22" >0</text>
<line x1="753.02" y1="275.4" x2="753.02" y2="280.65" stroke="#000" stroke-width="1.3" />
<text x="753.02" y="295.8" font-size="10.5" text-anchor="middle" fill="#000" font-weight="normal" stroke="#000" stroke-width="0.22" >2</text>
<line x1="797.54" y1="275.4" x2="797.54" y2="280.65" stroke="#000" stroke-width="1.3" />
<text x="797.54" y="295.8" font-size="10.5" text-anchor="middle" fill="#000" font-weight="normal" stroke="#000" stroke-width="0.22" >4</text>
<text x="706.9" y="312.7" font-size="12.75" text-anchor="middle" fill="#000" font-weight="normal" stroke="#000" stroke-width="0.22" >Time from</text>
<text x="710" y="326.4" font-size="12.75" text-anchor="middle" fill="#000" font-weight="normal" stroke="#000" stroke-width="0.22" >GlcNAc depletion (h)</text>
<text x="548.5" y="156.6" font-size="19.5" text-anchor="start" fill="#000" font-weight="bold" >f</text>
<text x="570.5" y="210.3" font-size="12.75" text-anchor="middle" fill="#000" font-weight="normal" stroke="#000" stroke-width="0.22" transform="rotate(-90 570.5 210.3)" >Scaled Intensity</text>
<text x="585.6" y="209.6" font-size="12.75" text-anchor="middle" fill="#000" font-weight="normal" stroke="#000" stroke-width="0.22" transform="rotate(-90 585.6 209.6)" >(Metabolomics)</text>
</svg></body></html>
